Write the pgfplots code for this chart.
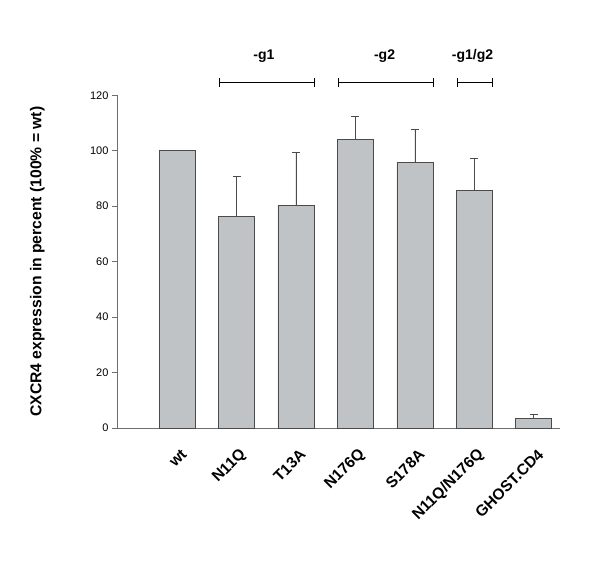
\documentclass[border=0pt]{standalone}
\usepackage{fontspec}
\setmainfont{Liberation Sans}
\usepackage{pgfplots}
\pgfplotsset{compat=1.18}

\definecolor{barfill}{RGB}{192,195,198}
\definecolor{baredge}{RGB}{75,75,75}
\definecolor{axisgray}{RGB}{110,110,110}

\begin{document}
\begin{tikzpicture}
% page = 600 x 562 px, 1px = 1pt; axis box corner at pixel (117,428)
\path[use as bounding box] (-117pt,-134pt) rectangle (483pt,428pt);
\begin{axis}[
    at={(0,0)}, anchor=south west,
    scale only axis,
    width=443pt, height=332.7pt,
    xmin=-1.01, xmax=6.44,
    ymin=0, ymax=120,
    axis lines=left,
    axis line style={-, axisgray, line width=0.8pt},
    clip=false,
    xtick={0,1,2,3,4,5,6},
    xticklabels={wt,N11Q,T13A,N176Q,S178A,N11Q/N176Q,GHOST.CD4},
    x tick label style={xshift=7pt, yshift=-19pt, rotate=45, anchor=east, inner sep=0pt,
        font=\fontsize{15.5}{17}\selectfont\bfseries},
    major x tick style={draw=none},
    ytick={0,20,40,60,80,100,120},
    tick align=outside,
    major tick length=5pt,
    y tick style={axisgray, line width=0.8pt},
    y tick label style={font=\fontsize{11}{13}\selectfont},
    /pgf/number format/assume math mode=true,
    ylabel={CXCR4 expression in percent (100\% = wt)},
    ylabel style={at={(axis description cs:-0.18,0.5)}, anchor=center, font=\fontsize{15.7}{17}\selectfont\bfseries},
]
\addplot[ybar, bar width=36pt, bar shift=0pt, fill=barfill, draw=baredge, line width=0.8pt,
    error bars/.cd, y dir=plus, y explicit,
    error bar style={baredge, line width=0.8pt},
    error mark options={rotate=90, mark size=4pt, baredge, line width=0.8pt}]
coordinates {
    (0,100)   +- (0,0)
    (1,76.4)  +- (0,14.5)
    (2,80.4)  +- (0,19.0)
    (3,104.1) +- (0,8.4)
    (4,95.8)  +- (0,11.8)
    (5,85.7)  +- (0,11.7)
    (6,3.4)   +- (0,1.5)
};
% group brackets
\draw[|-|, line width=1.2pt, black] (axis cs:0.70,124.7) -- (axis cs:2.32,124.7);
\draw[|-|, line width=1.2pt, black] (axis cs:2.70,124.7) -- (axis cs:4.32,124.7);
\draw[|-|, line width=1.2pt, black] (axis cs:4.70,124.7) -- (axis cs:5.32,124.7);
\node[font=\fontsize{14}{16}\selectfont\bfseries] at (axis cs:1.46,134.2) {-g1};
\node[font=\fontsize{14}{16}\selectfont\bfseries] at (axis cs:3.49,134.2) {-g2};
\node[font=\fontsize{14}{16}\selectfont\bfseries] at (axis cs:4.97,134.2) {-g1/g2};
\end{axis}
\end{tikzpicture}
\end{document}
